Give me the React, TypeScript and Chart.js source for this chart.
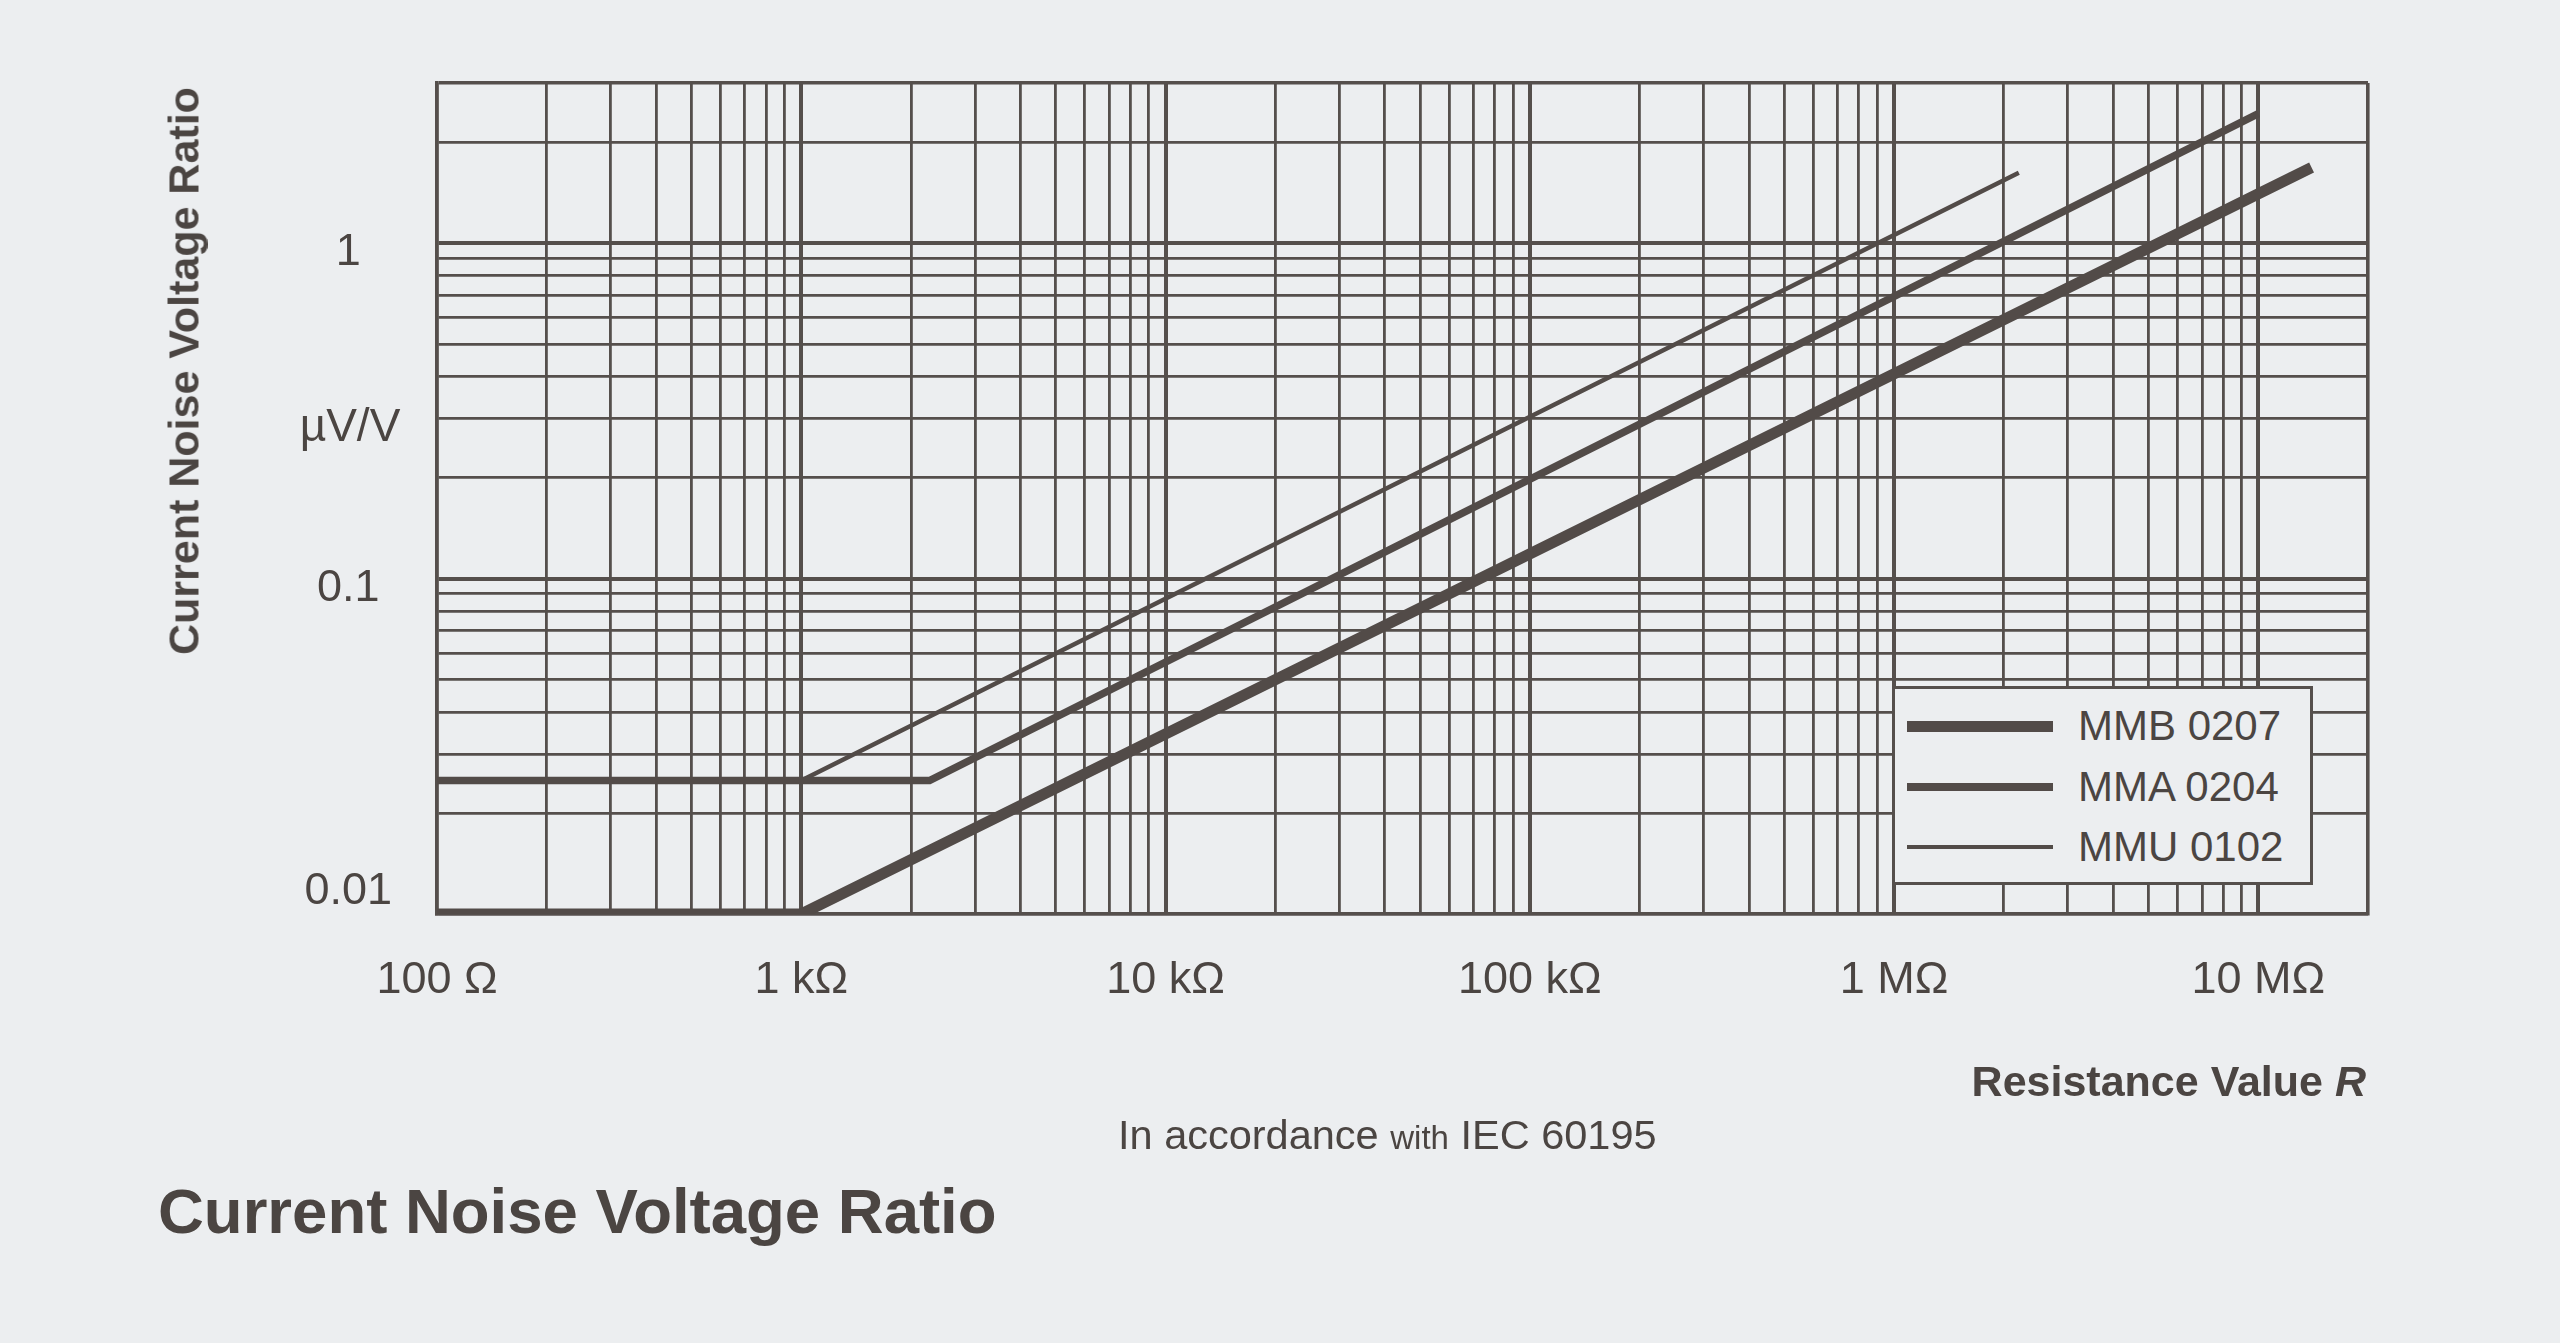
import React, { useEffect, useRef } from "react";
import { Chart, registerables } from "chart.js";

Chart.register(...registerables);

// ---- data ----
const seriesNames = ["MMB 0207", "MMA 0204", "MMU 0102"];
const mmbR = [100, 1000, 1.4e7];
const mmbV = [0.01, 0.01, 1.68];
const mmaR = [100, 2250, 1.0e7];
const mmaV = [0.025, 0.025, 2.43];
const mmuR = [100, 1000, 2.2e6];
const mmuV = [0.025, 0.025, 1.62];
const seriesR = [mmbR, mmaR, mmuR];
const seriesV = [mmbV, mmaV, mmuV];
const lineWidths = [11, 7.5, 4.5];

const xTickValues = [100, 1e3, 1e4, 1e5, 1e6, 1e7];
const xTickLabels = ["100 Ω", "1 kΩ", "10 kΩ", "100 kΩ", "1 MΩ", "10 MΩ"];
const yTickValues = [0.01, 0.1, 1];
const yTickLabels = ["0.01", "0.1", "1"];
const xMin = 100;
const xMax = 2e7;
const yMin = 0.01;
const yMax = 3;

// ---- styles ----
const INK = "#4b4542";
const GRID = "#554f4c";
const LINE = "#524b48";
const PAPER = "#eceef0";
const FONT = '"Liberation Sans", Arial, Helvetica, sans-serif';

function logGrid(min: number, max: number): number[] {
  const out: number[] = [];
  for (let e = Math.floor(Math.log10(min)); Math.pow(10, e) <= max; e++) {
    for (let k = 1; k <= 9; k++) {
      const v = +(k * Math.pow(10, e)).toPrecision(6);
      if (v >= min && v <= max) out.push(v);
    }
  }
  if (out[out.length - 1] !== max) out.push(max);
  return out;
}

function isDecade(v: number): boolean {
  const l = Math.log10(v);
  return Math.abs(l - Math.round(l)) < 1e-9;
}

function same(a: number, b: number) {
  return Math.abs(a - b) / Math.max(Math.abs(a), Math.abs(b)) < 1e-9;
}

function labelFor(v: number, vals: number[], labels: string[]): string {
  const i = vals.findIndex((t) => same(t, v));
  return i >= 0 ? labels[i] : "";
}

function gridWidth(v: number | undefined, min: number, max: number) {
  if (v === undefined) return 2.8;
  if (same(v, max) || same(v, min)) return 3.6;
  return isDecade(v) ? 4 : 2.8;
}

export default function App() {
  const canvasRef = useRef<HTMLCanvasElement | null>(null);

  useEffect(() => {
    const canvas = canvasRef.current;
    if (!canvas) return;
    const datasets = seriesNames.map((name, i) => ({
      label: name,
      data: seriesR[i].map((r, j) => ({ x: r, y: seriesV[i][j] })),
      showLine: true,
      borderColor: LINE,
      backgroundColor: LINE,
      borderWidth: lineWidths[i],
      pointRadius: 0,
      borderCapStyle: "butt" as const,
      borderJoinStyle: "miter" as const,
      tension: 0,
    }));

    const chart = new Chart(canvas, {
      type: "scatter",
      data: { datasets },
      options: {
        responsive: false,
        animation: false,
        devicePixelRatio: 1,
        layout: { padding: { left: 0, top: 83, right: 192, bottom: 0 } },
        plugins: {
          legend: { display: false },
          tooltip: { enabled: false },
          title: { display: false },
        },
        scales: {
          x: {
            type: "logarithmic",
            position: "bottom",
            min: xMin,
            max: xMax,
            afterFit: (s: any) => {
              s.height = 1343 - 914;
            },
            afterBuildTicks: (s: any) => {
              s.ticks = logGrid(xMin, xMax).map((v) => ({ value: v, major: isDecade(v) }));
            },
            ticks: {
              autoSkip: false,
              maxRotation: 0,
              minRotation: 0,
              padding: 40,
              color: INK,
              font: { family: FONT, size: 45, lineHeight: 1.2 },
              callback: (v: any) => labelFor(Number(v), xTickValues, xTickLabels),
            },
            grid: {
              color: GRID,
              drawTicks: false,
              lineWidth: (c: any) => gridWidth(c.tick ? c.tick.value : undefined, xMin, xMax),
            },
            border: { display: true, color: GRID, width: 3.6 },
          },
          y: {
            type: "logarithmic",
            position: "left",
            min: yMin,
            max: yMax,
            afterFit: (s: any) => {
              s.width = 437;
            },
            afterBuildTicks: (s: any) => {
              s.ticks = logGrid(yMin, yMax).map((v) => ({ value: v, major: isDecade(v) }));
            },
            ticks: {
              autoSkip: false,
              crossAlign: "center",
              padding: 45,
              labelOffset: 10,
              color: INK,
              font: { family: FONT, size: 45, lineHeight: 1.45 },
              callback: (v: any) => {
                const s = labelFor(Number(v), yTickValues, yTickLabels);
                if (s && same(Number(v), yMin)) return [s, ""];
                return s;
              },
            },
            grid: {
              color: GRID,
              drawTicks: false,
              lineWidth: (c: any) => gridWidth(c.tick ? c.tick.value : undefined, yMin, yMax),
            },
            border: { display: true, color: GRID, width: 3.6 },
          },
        },
      } as any,
    });
    return () => chart.destroy();
  }, []);

  const abs = (extra: React.CSSProperties): React.CSSProperties => ({
    position: "absolute",
    fontFamily: FONT,
    color: INK,
    whiteSpace: "nowrap",
    lineHeight: 1,
    ...extra,
  });

  const legendRows = [726, 787, 847];

  return (
    <div
      style={{
        position: "absolute",
        left: 0,
        top: 0,
        width: 2560,
        height: 1343,
        background: PAPER,
        overflow: "hidden",
      }}
    >
      <canvas
        ref={canvasRef}
        width={2560}
        height={1343}
        style={{ position: "absolute", left: 0, top: 0, width: 2560, height: 1343 }}
      />

      {/* y axis title */}
      <div
        style={abs({
          left: 184,
          top: 371,
          fontSize: 43,
          fontWeight: 700,
          transform: "translate(-50%, -50%) rotate(-90deg)",
        })}
      >
        Current Noise Voltage Ratio
      </div>

      {/* unit */}
      <div style={abs({ left: 350, top: 425, fontSize: 46, transform: "translate(-50%, -50%)" })}>µV/V</div>

      {/* x axis title */}
      <div
        style={abs({
          right: 2560 - 2366,
          top: 1081,
          fontSize: 43,
          fontWeight: 700,
          transform: "translateY(-50%)",
        })}
      >
        Resistance Value <i>R</i>
      </div>

      {/* note */}
      <div style={abs({ left: 1118, top: 1135, fontSize: 41.5, transform: "translateY(-50%)" })}>
        In accordance <span style={{ fontSize: 33 }}>with</span> IEC 60195
      </div>

      {/* bottom title */}
      <div style={abs({ left: 158, top: 1212, fontSize: 63.5, fontWeight: 700, transform: "translateY(-50%)" })}>
        Current Noise Voltage Ratio
      </div>

      {/* legend */}
      <div
        style={{
          position: "absolute",
          left: 1892,
          top: 686,
          width: 421,
          height: 199,
          boxSizing: "border-box",
          border: `3.5px solid ${GRID}`,
          background: PAPER,
        }}
      />
      {seriesNames.map((name, i) => (
        <React.Fragment key={name}>
          <div
            style={{
              position: "absolute",
              left: 1907,
              width: 146,
              top: legendRows[i] - lineWidths[i] / 2,
              height: lineWidths[i],
              background: LINE,
            }}
          />
          <div style={abs({ left: 2078, top: legendRows[i], fontSize: 42, transform: "translateY(-50%)" })}>
            {name}
          </div>
        </React.Fragment>
      ))}
    </div>
  );
}
